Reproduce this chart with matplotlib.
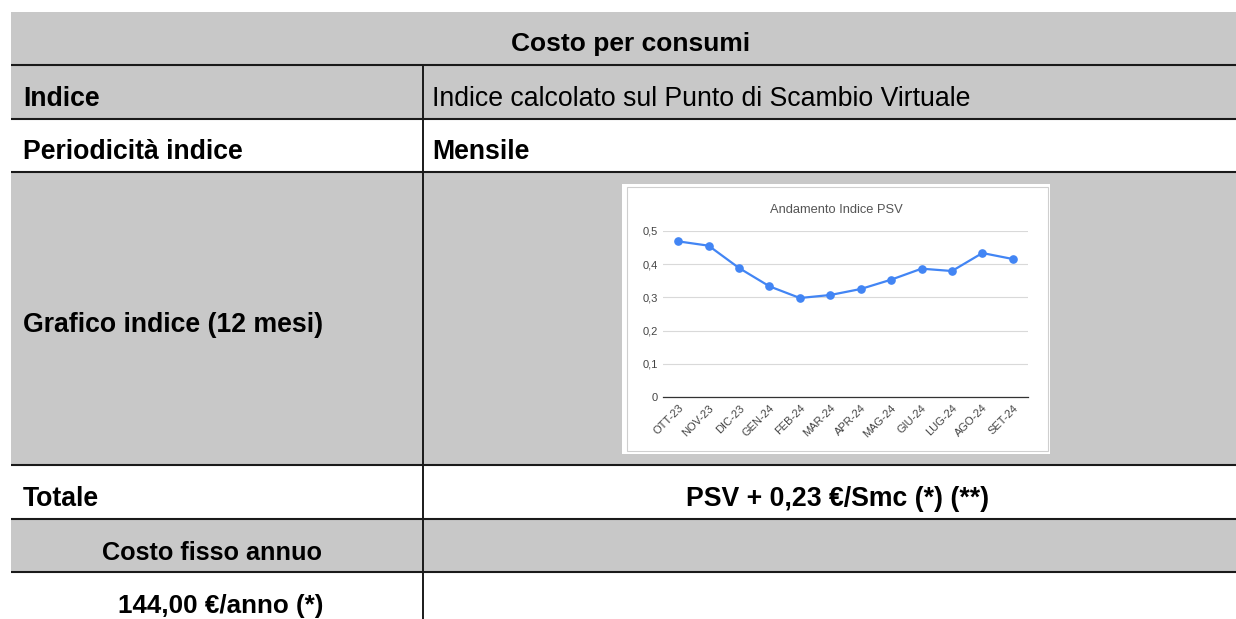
import matplotlib
matplotlib.use("Agg")
import matplotlib.pyplot as plt
from matplotlib.patches import Rectangle

FAM = "Liberation Sans"
plt.rcParams['font.family'] = 'sans-serif'
plt.rcParams['font.sans-serif'] = [FAM, 'DejaVu Sans']

# ---- data ----
months = ["OTT-23", "NOV-23", "DIC-23", "GEN-24", "FEB-24", "MAR-24",
          "APR-24", "MAG-24", "GIU-24", "LUG-24", "AGO-24", "SET-24"]
psv = [0.468, 0.455, 0.388, 0.333, 0.298, 0.307,
       0.325, 0.353, 0.386, 0.379, 0.433, 0.415]
yticks = [0, 0.1, 0.2, 0.3, 0.4, 0.5]
ytick_labels = ["0", "0,1", "0,2", "0,3", "0,4", "0,5"]
chart_title = "Andamento Indice PSV"

header = "Costo per consumi"
left_labels = ["Indice", "Periodicità indice", "Grafico indice (12 mesi)",
               "Totale", "Costo fisso annuo", "144,00 €/anno (*)"]
right_labels = ["Indice calcolato sul Punto di Scambio Virtuale", "Mensile", "",
                "PSV + 0,23 €/Smc (*) (**)", "", ""]

W, H = 1236, 619
fig = plt.figure(figsize=(W / 100, H / 100), dpi=100)
bg = fig.add_axes([0, 0, 1, 1])
bg.set_xlim(0, W)
bg.set_ylim(H, 0)
bg.axis("off")

GRAY = "#c8c8c8"
LINE = "#1a1a1a"
x0, xdiv, x1 = 11, 423, W
rows = [(12, 65.3, GRAY), (65.3, 118.7, GRAY), (118.7, 172, "white"),
        (172, 465, GRAY), (465, 519.3, "white"), (519.3, 572.3, GRAY),
        (572.3, H + 2, "white")]
for top, bot, col in rows:
    bg.add_patch(Rectangle((x0, top), x1 - x0, bot - top, facecolor=col, edgecolor="none"))
for y in [65.3, 118.7, 172, 465, 519.3, 572.3]:
    bg.plot([x0, x1], [y, y], color=LINE, lw=1.5, solid_capstyle="butt")
bg.plot([xdiv, xdiv], [65.3, H], color=LINE, lw=1.4, solid_capstyle="butt")

FS = 19.2
bg.text(630.5, 50.5, header, family=FAM, fontsize=19.0, fontweight="bold",
        ha="center", va="baseline")
baselines = [105.7, 159, 331.7, 505.5, 559.7, 612.7]
for i, (lab, bl) in enumerate(zip(left_labels, baselines)):
    if i == 4:
        bg.text(211.5, bl, lab, family=FAM, fontsize=18.2, fontweight="bold", ha="center", va="baseline")
    elif i == 5:
        bg.text(220.5, bl, lab, family=FAM, fontsize=18.7, fontweight="bold", ha="center", va="baseline")
    else:
        bg.text(23, bl, lab, family=FAM, fontsize=FS, fontweight="bold", ha="left", va="baseline")
for i, (lab, bl) in enumerate(zip(right_labels, baselines)):
    if not lab:
        continue
    if i == 0:
        bg.text(432, bl, lab, family=FAM, fontsize=FS, ha="left", va="baseline")
    elif i == 1:
        bg.text(432, bl, lab, family=FAM, fontsize=FS, fontweight="bold", ha="left", va="baseline")
    else:
        bg.text(837.5, bl, lab, family=FAM, fontsize=FS, fontweight="bold", ha="center", va="baseline")

# chart box
bg.add_patch(Rectangle((622, 184), 428, 270, facecolor="white", edgecolor="none"))
bg.add_patch(Rectangle((627, 186.5), 421, 264.5, facecolor="none", edgecolor="#cfcfcf", lw=0.8))
bg.text(836, 210, chart_title, family=FAM, fontsize=9.3, color="#555555", ha="center", va="center")

# chart axes
left, right, top, bot = 663, 1028, 230.7, 397.3
ax = fig.add_axes([left / W, (H - bot) / H, (right - left) / W, (bot - top) / H])
ax.set_facecolor("none")
xs = list(range(len(months)))
ax.plot(xs, psv, color="#4285f4", lw=1.6, marker="o", markersize=5.2, clip_on=False, zorder=3)
ax.set_xlim(-0.5, len(months) - 0.5)
ax.set_ylim(0, 0.5)
ax.set_yticks(yticks)
ax.set_yticklabels(ytick_labels, family=FAM)
ax.set_xticks(xs)
ax.set_xticklabels(months, rotation=45, ha="right", va="top", rotation_mode="anchor", family=FAM)
ax.tick_params(axis="both", length=0, labelsize=8, labelcolor="#444444")
ax.tick_params(axis="y", pad=3.8)
ax.tick_params(axis="x", pad=4)
ax.grid(axis="y", color="#d9d9d9", lw=0.8)
ax.set_axisbelow(True)
for s in ["top", "right", "left"]:
    ax.spines[s].set_visible(False)
ax.spines["bottom"].set_color("#333333")
ax.spines["bottom"].set_linewidth(0.9)

fig.savefig("out.png", dpi=100)
